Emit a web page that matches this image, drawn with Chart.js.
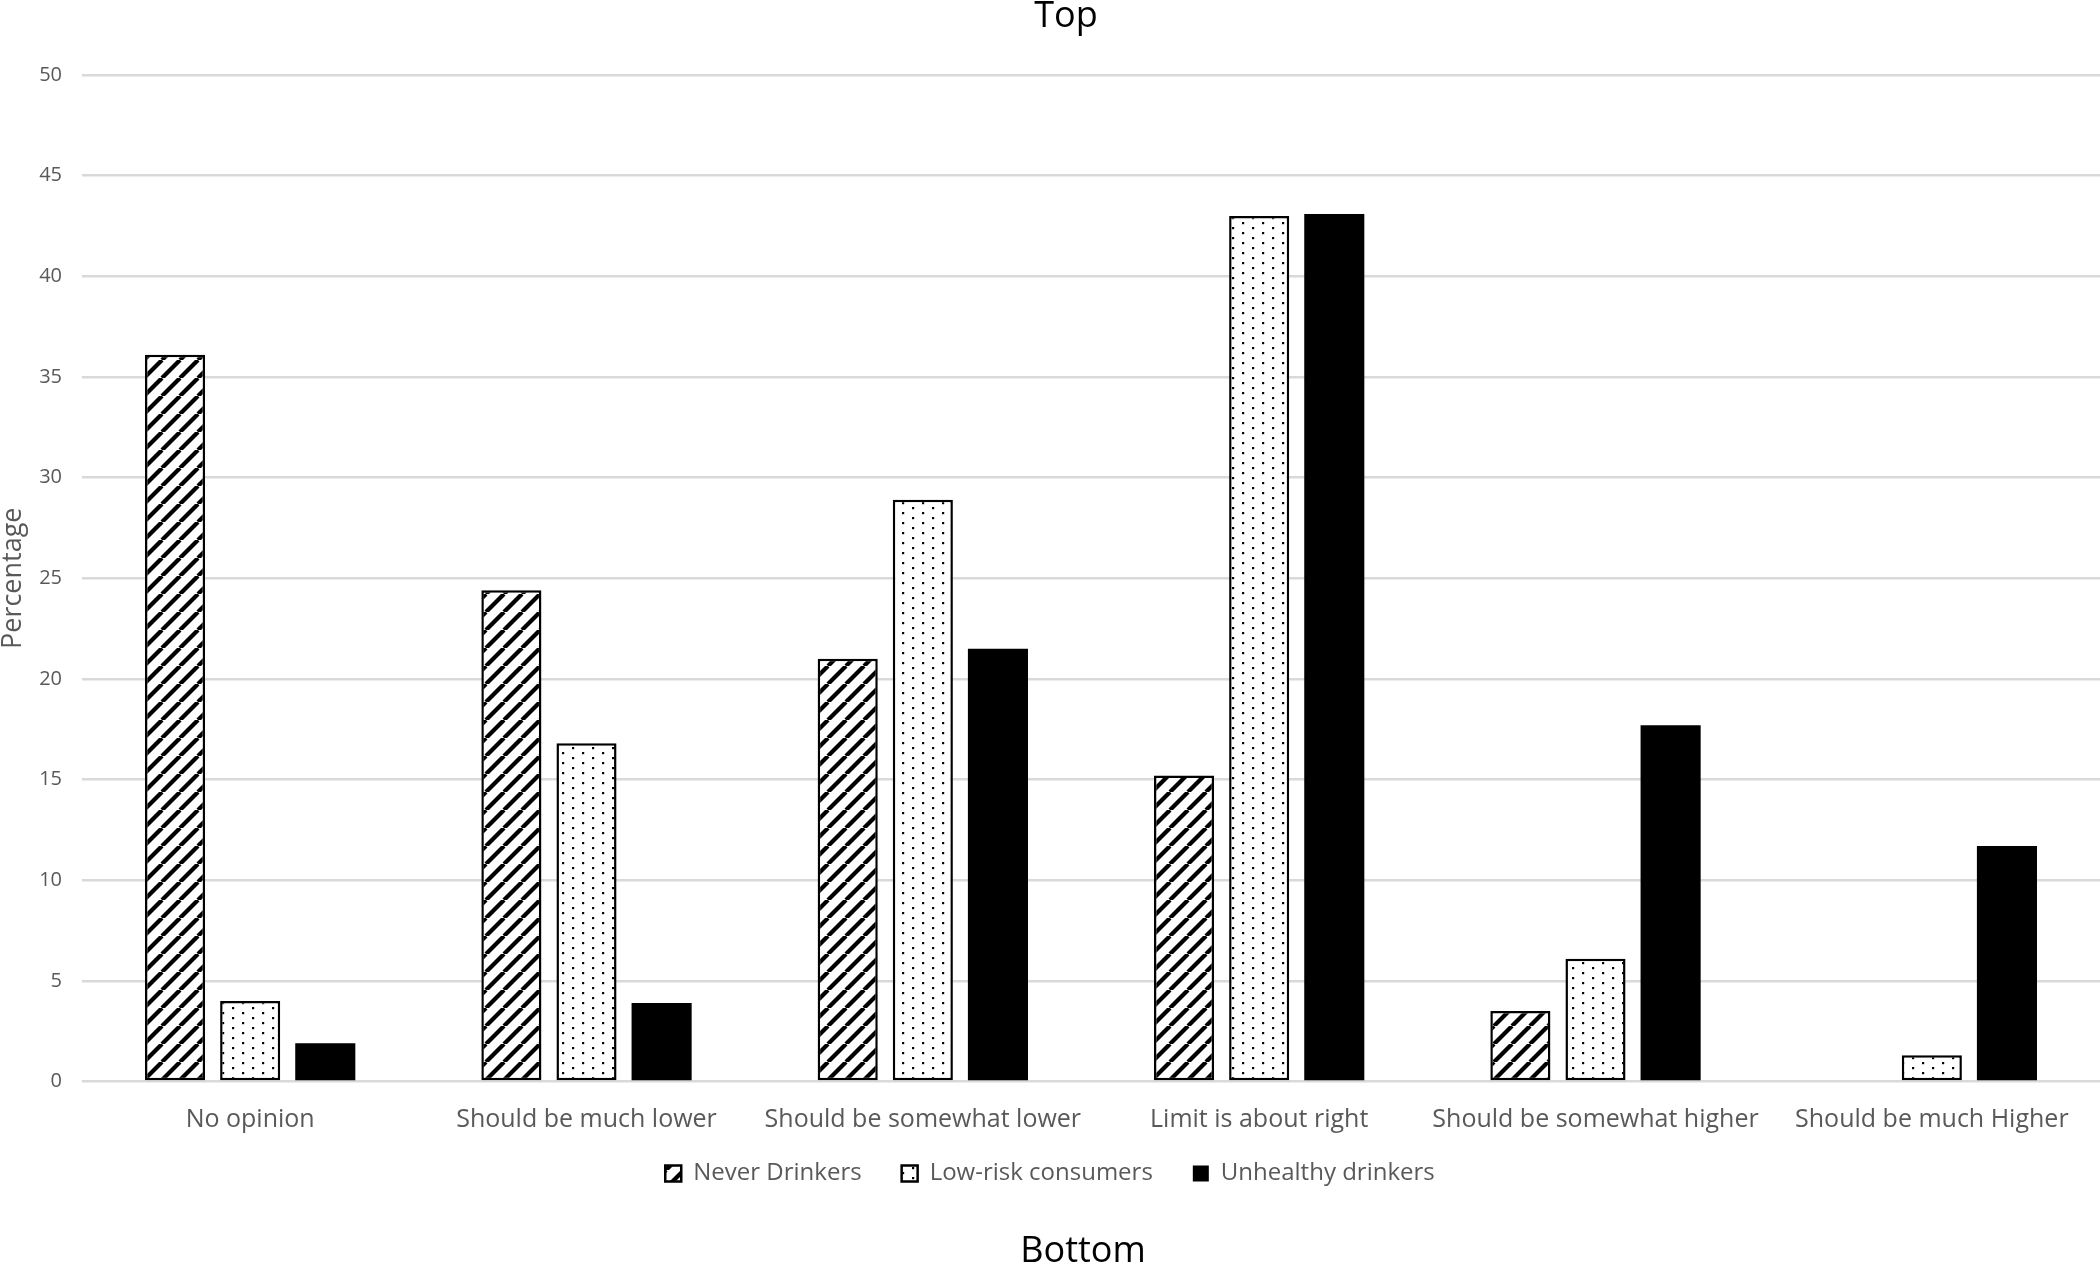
<!DOCTYPE html>
<html>
<head>
<meta charset="utf-8">
<script src="https://cdn.jsdelivr.net/npm/chart.js@4.4.0/dist/chart.umd.min.js"></script>
<style>
html,body{margin:0;padding:0;background:#ffffff;}
canvas{display:block;}
</style>
</head>
<body>
<canvas id="chart" width="2100" height="1266"></canvas>
<script>
// ---- data ----
const categories = ['No opinion', 'Should be much lower', 'Should be somewhat lower', 'Limit is about right', 'Should be somewhat higher', 'Should be much Higher'];
const seriesNames = ['Never Drinkers', 'Low-risk consumers', 'Unhealthy drinkers'];
const neverDrinkers = [36.1, 24.4, 21.0, 15.2, 3.5, 0];
const lowRiskConsumers = [4.0, 16.8, 28.9, 43.0, 6.1, 1.3];
const unhealthyDrinkers = [1.9, 3.9, 21.5, 43.1, 17.7, 11.7];
const yMin = 0, yMax = 50, yStep = 5;
const topTitle = 'Top';
const bottomTitle = 'Bottom';
const yAxisTitle = 'Percentage';

// ---- patterns ----
function hatchPattern() {
  const s = 18;
  const c = document.createElement('canvas');
  c.width = s; c.height = s;
  const g = c.getContext('2d');
  g.fillStyle = '#ffffff'; g.fillRect(0, 0, s, s);
  g.strokeStyle = '#000000'; g.lineWidth = 4.2;
  for (let k = -1; k <= 1; k++) {
    g.beginPath();
    g.moveTo(k * s, s);
    g.lineTo(k * s + s, 0);
    g.stroke();
  }
  return g.createPattern(c, 'repeat');
}
function dotPattern() {
  const w = 20, h = 10;
  const c = document.createElement('canvas');
  c.width = w; c.height = h;
  const g = c.getContext('2d');
  g.fillStyle = '#ffffff'; g.fillRect(0, 0, w, h);
  g.fillStyle = '#000000';
  g.fillRect(2, 2, 2.2, 2.2);
  g.fillRect(12, 7, 2.2, 2.2);
  return g.createPattern(c, 'repeat');
}

const textGrey = '#595959';
const FONT = "'Open Sans', 'DejaVu Sans', sans-serif";

const extraTitles = {
  id: 'extraTitles',
  afterLayout(chart) {
    // pull the legend up closer to the category labels
    if (chart.legend) { chart.legend.top -= 20; chart.legend.bottom -= 20; }
  },
  afterDraw(chart) {
    const ctx = chart.ctx;
    ctx.save();
    ctx.fillStyle = '#000000';
    ctx.font = "36px " + FONT;
    ctx.textAlign = 'center';
    ctx.textBaseline = 'alphabetic';
    ctx.fillText(topTitle, 1066, 27);
    ctx.fillText(bottomTitle, 1083, 1262);
    ctx.restore();
  }
};

new Chart(document.getElementById('chart'), {
  type: 'bar',
  data: {
    labels: categories,
    datasets: [
      { label: seriesNames[0], data: neverDrinkers, backgroundColor: hatchPattern(), borderColor: '#000000', borderWidth: 2.5, borderSkipped: false },
      { label: seriesNames[1], data: lowRiskConsumers, backgroundColor: dotPattern(), borderColor: '#000000', borderWidth: 2.5, borderSkipped: false },
      { label: seriesNames[2], data: unhealthyDrinkers, backgroundColor: '#000000', borderColor: '#000000', borderWidth: 0 }
    ]
  },
  options: {
    responsive: false,
    animation: false,
    devicePixelRatio: 1,
    layout: { padding: { top: 75, left: 0, right: 0, bottom: 50.5 } },
    datasets: { bar: { categoryPercentage: 0.67, barPercentage: 0.8 } },
    plugins: {
      legend: {
        position: 'bottom',
        labels: {
          boxWidth: 16, boxHeight: 16, padding: 40,
          color: textGrey,
          font: { family: FONT, size: 24 }
        }
      },
      title: { display: false },
      tooltip: { enabled: false }
    },
    scales: {
      x: {
        grid: { display: false, drawTicks: false },
        border: { display: false },
        ticks: { color: textGrey, font: { family: FONT, size: 25 }, padding: 23, maxRotation: 0, autoSkip: false },
        afterFit(scale) { scale.height = 60; }
      },
      y: {
        min: yMin, max: yMax,
        grid: { color: '#d9d9d9', lineWidth: 2.5, drawTicks: false },
        border: { display: false },
        ticks: { stepSize: yStep, color: textGrey, font: { family: FONT, size: 20 }, padding: 20 },
        title: { display: true, text: yAxisTitle, color: textGrey, font: { family: FONT, size: 27, lineHeight: 1 }, padding: 0 },
        afterFit(scale) { scale.width = 82; }
      }
    }
  },
  plugins: [extraTitles]
});
</script>
</body>
</html>
